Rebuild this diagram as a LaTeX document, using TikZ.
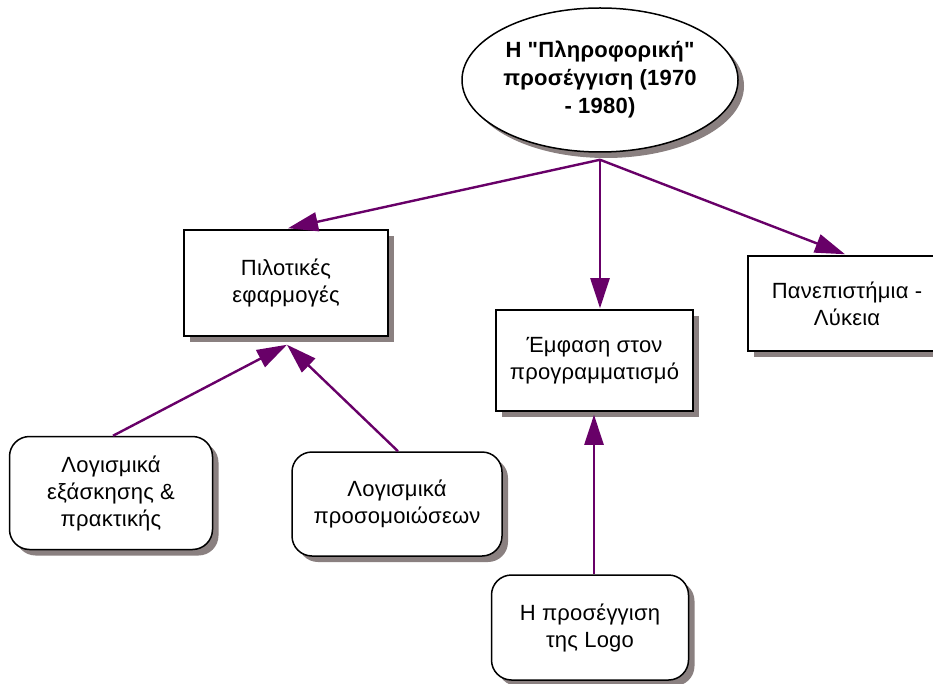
\documentclass[tikz,border=0pt]{standalone}
\usepackage{fontspec}
\setmainfont{Liberation Sans}[Ligatures=TeXOff,LetterSpace=1]
\usetikzlibrary{shapes.geometric,shadows,arrows.meta}
\definecolor{arrcol}{RGB}{104,0,104}
\definecolor{shadcol}{RGB}{138,128,128}
\tikzset{
  shad/.style={drop shadow={shadow xshift=6pt,shadow yshift=-6pt,fill=shadcol,opacity=1}},
  sqbox/.style={draw=black,line width=1.5pt,fill=white,shad,align=center,inner sep=0pt,
    font=\fontsize{22}{27}\selectfont},
  rbox/.style={sqbox,rounded corners=20pt},
  ellbox/.style={ellipse,draw=black,line width=1.5pt,fill=white,shad,align=center,inner sep=0pt,
    font=\fontsize{22}{28}\selectfont\bfseries},
  arr/.style={draw=arrcol,line width=2.4pt,-{Triangle[length=30pt,width=19pt]}}
}
\begin{document}
\begin{tikzpicture}[x=1pt,y=-1pt]
\useasboundingbox (0,0) rectangle (933,684);
\clip (0,0) rectangle (933,684);
\node[ellbox,minimum width=276pt,minimum height=144pt] (ell) at (600,80) {Η "Πληροφορική"\\προσέγγιση (1970\\- 1980)};
\node[sqbox,minimum width=204pt,minimum height=106pt] (pil) at (286,283) {Πιλοτικές\\εφαρμογές};
\node[sqbox,minimum width=197pt,minimum height=101pt] (emf) at (594.5,360.5) {Έμφαση στον\\προγραμματισμό};
\node[sqbox,minimum width=198pt,minimum height=95pt] (pan) at (847,303.5) {Πανεπιστήμια -\\Λύκεια};
\node[rbox,minimum width=203pt,minimum height=113pt] (lex) at (111,493) {Λογισμικά\\εξάσκησης \&\\πρακτικής};
\node[rbox,minimum width=210pt,minimum height=104pt] (lpr) at (397,504) {Λογισμικά\\προσομοιώσεων};
\node[rbox,minimum width=197pt,minimum height=105pt] (logo) at (590,627.5) {Η προσέγγιση\\της Logo};
\coordinate (root) at ([yshift=-7pt]ell.south);
\draw[arr] (root) -- ([shift={(2,-1)}]pil.north);
\draw[arr] (root) -- ([shift={(5.5,-1)}]emf.north);
\draw[arr] (root) -- ([shift={(-2,-1)}]pan.north);
\draw[arr] ([xshift=2pt]lex.north) -- ([shift={(1,8)}]pil.south);
\draw[arr] ([xshift=1pt]lpr.north) -- ([shift={(1,8)}]pil.south);
\draw[arr] ([xshift=4pt]logo.north) -- ([shift={(-0.5,3)}]emf.south);
\end{tikzpicture}
\end{document}
